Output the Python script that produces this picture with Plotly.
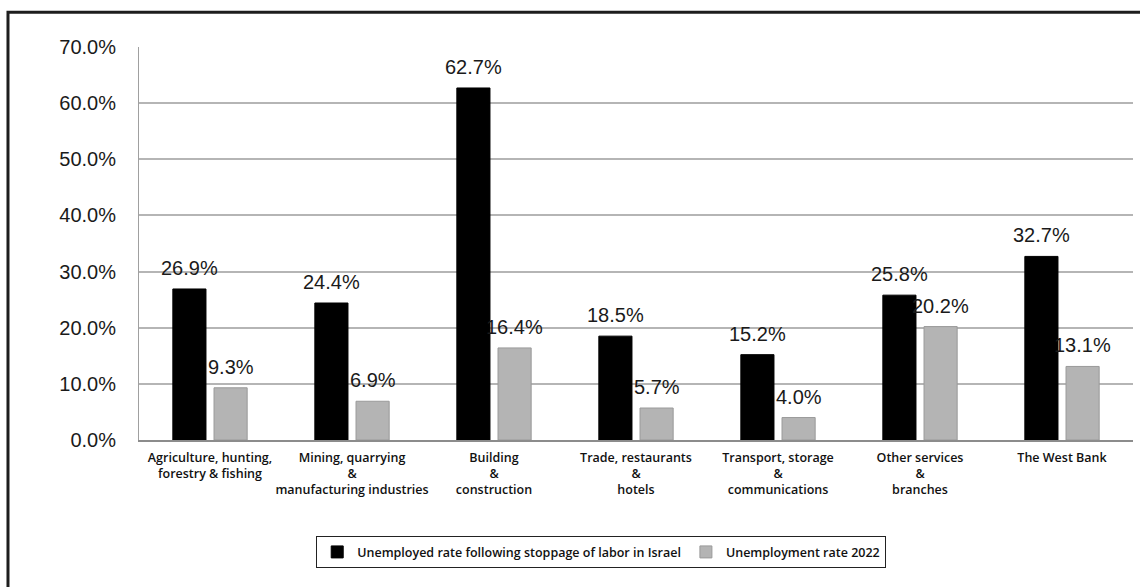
import plotly.graph_objects as go

categories = [
    "Agriculture, hunting,<br>forestry & fishing",
    "Mining, quarrying<br>&<br>manufacturing industries",
    "Building<br>&<br>construction",
    "Trade, restaurants<br>&<br>hotels",
    "Transport, storage<br>&<br>communications",
    "Other services<br>&<br>branches",
    "The West Bank",
]
stoppage_rate = [26.9, 24.4, 62.7, 18.5, 15.2, 25.8, 32.7]
unemployment_2022 = [9.3, 6.9, 16.4, 5.7, 4.0, 20.2, 13.1]
y_ticks = [0, 10, 20, 30, 40, 50, 60, 70]

series_names = [
    "Unemployed rate following stoppage of labor in Israel",
    "Unemployment rate 2022",
]

label_font = dict(family="Liberation Sans, Arial, sans-serif", size=20, color="#1a1a1a")
cat_font = dict(family="Open Sans, sans-serif", size=12.5, color="#111111", weight=600)

fig = go.Figure()
fig.add_trace(go.Bar(
    x=categories, y=stoppage_rate, name=series_names[0],
    marker=dict(color="#000000", line=dict(color="#000000", width=1)),
))
fig.add_trace(go.Bar(
    x=categories, y=unemployment_2022, name=series_names[1],
    marker=dict(color="#b4b4b4", line=dict(color="#9a9a9a", width=1)),
))

# value labels centred over each bar of the group
for values, shift in ((stoppage_rate, -20.5), (unemployment_2022, 20.5)):
    for cat, v in zip(categories, values):
        fig.add_annotation(
            x=cat, y=v, xref="x", yref="y", text=f"{v:.1f}%",
            showarrow=False, yanchor="bottom", xshift=shift, yshift=8,
            font=label_font,
        )

# outer frame
fig.add_shape(
    type="rect", xref="paper", yref="paper",
    x0=-0.1318, x1=1.05, y0=-0.6, y1=1.0885,
    line=dict(color="#1e1e1e", width=3), fillcolor="rgba(0,0,0,0)", layer="below",
)

fig.update_layout(
    width=1140, height=587,
    margin=dict(l=139, r=7, t=47, b=147),
    paper_bgcolor="#ffffff", plot_bgcolor="#ffffff",
    barmode="group", bargap=0.42, bargroupgap=0.195,
    showlegend=True,
    legend=dict(
        orientation="h", x=0.465, xanchor="center", y=-0.245, yanchor="top",
        bordercolor="#222222", borderwidth=1, bgcolor="#ffffff",
        font=dict(family="Open Sans, sans-serif", size=12.5, color="#111111", weight=600),
        itemwidth=30, tracegroupgap=0,
    ),
    xaxis=dict(
        showline=True, linecolor="#8c8c8c", linewidth=1.5,
        ticks="", tickfont=cat_font, showgrid=False, ticklabelstandoff=5,
    ),
    yaxis=dict(
        range=[0, 70], tickvals=y_ticks,
        ticktext=[f"{t:.1f}%" for t in y_ticks],
        tickfont=label_font, ticklabelstandoff=18,
        showgrid=True, gridcolor="#b5b5b5", gridwidth=1.5,
        showline=True, linecolor="#a0a0a0", linewidth=1,
        zeroline=False,
    ),
)

fig.write_html("out.html")
